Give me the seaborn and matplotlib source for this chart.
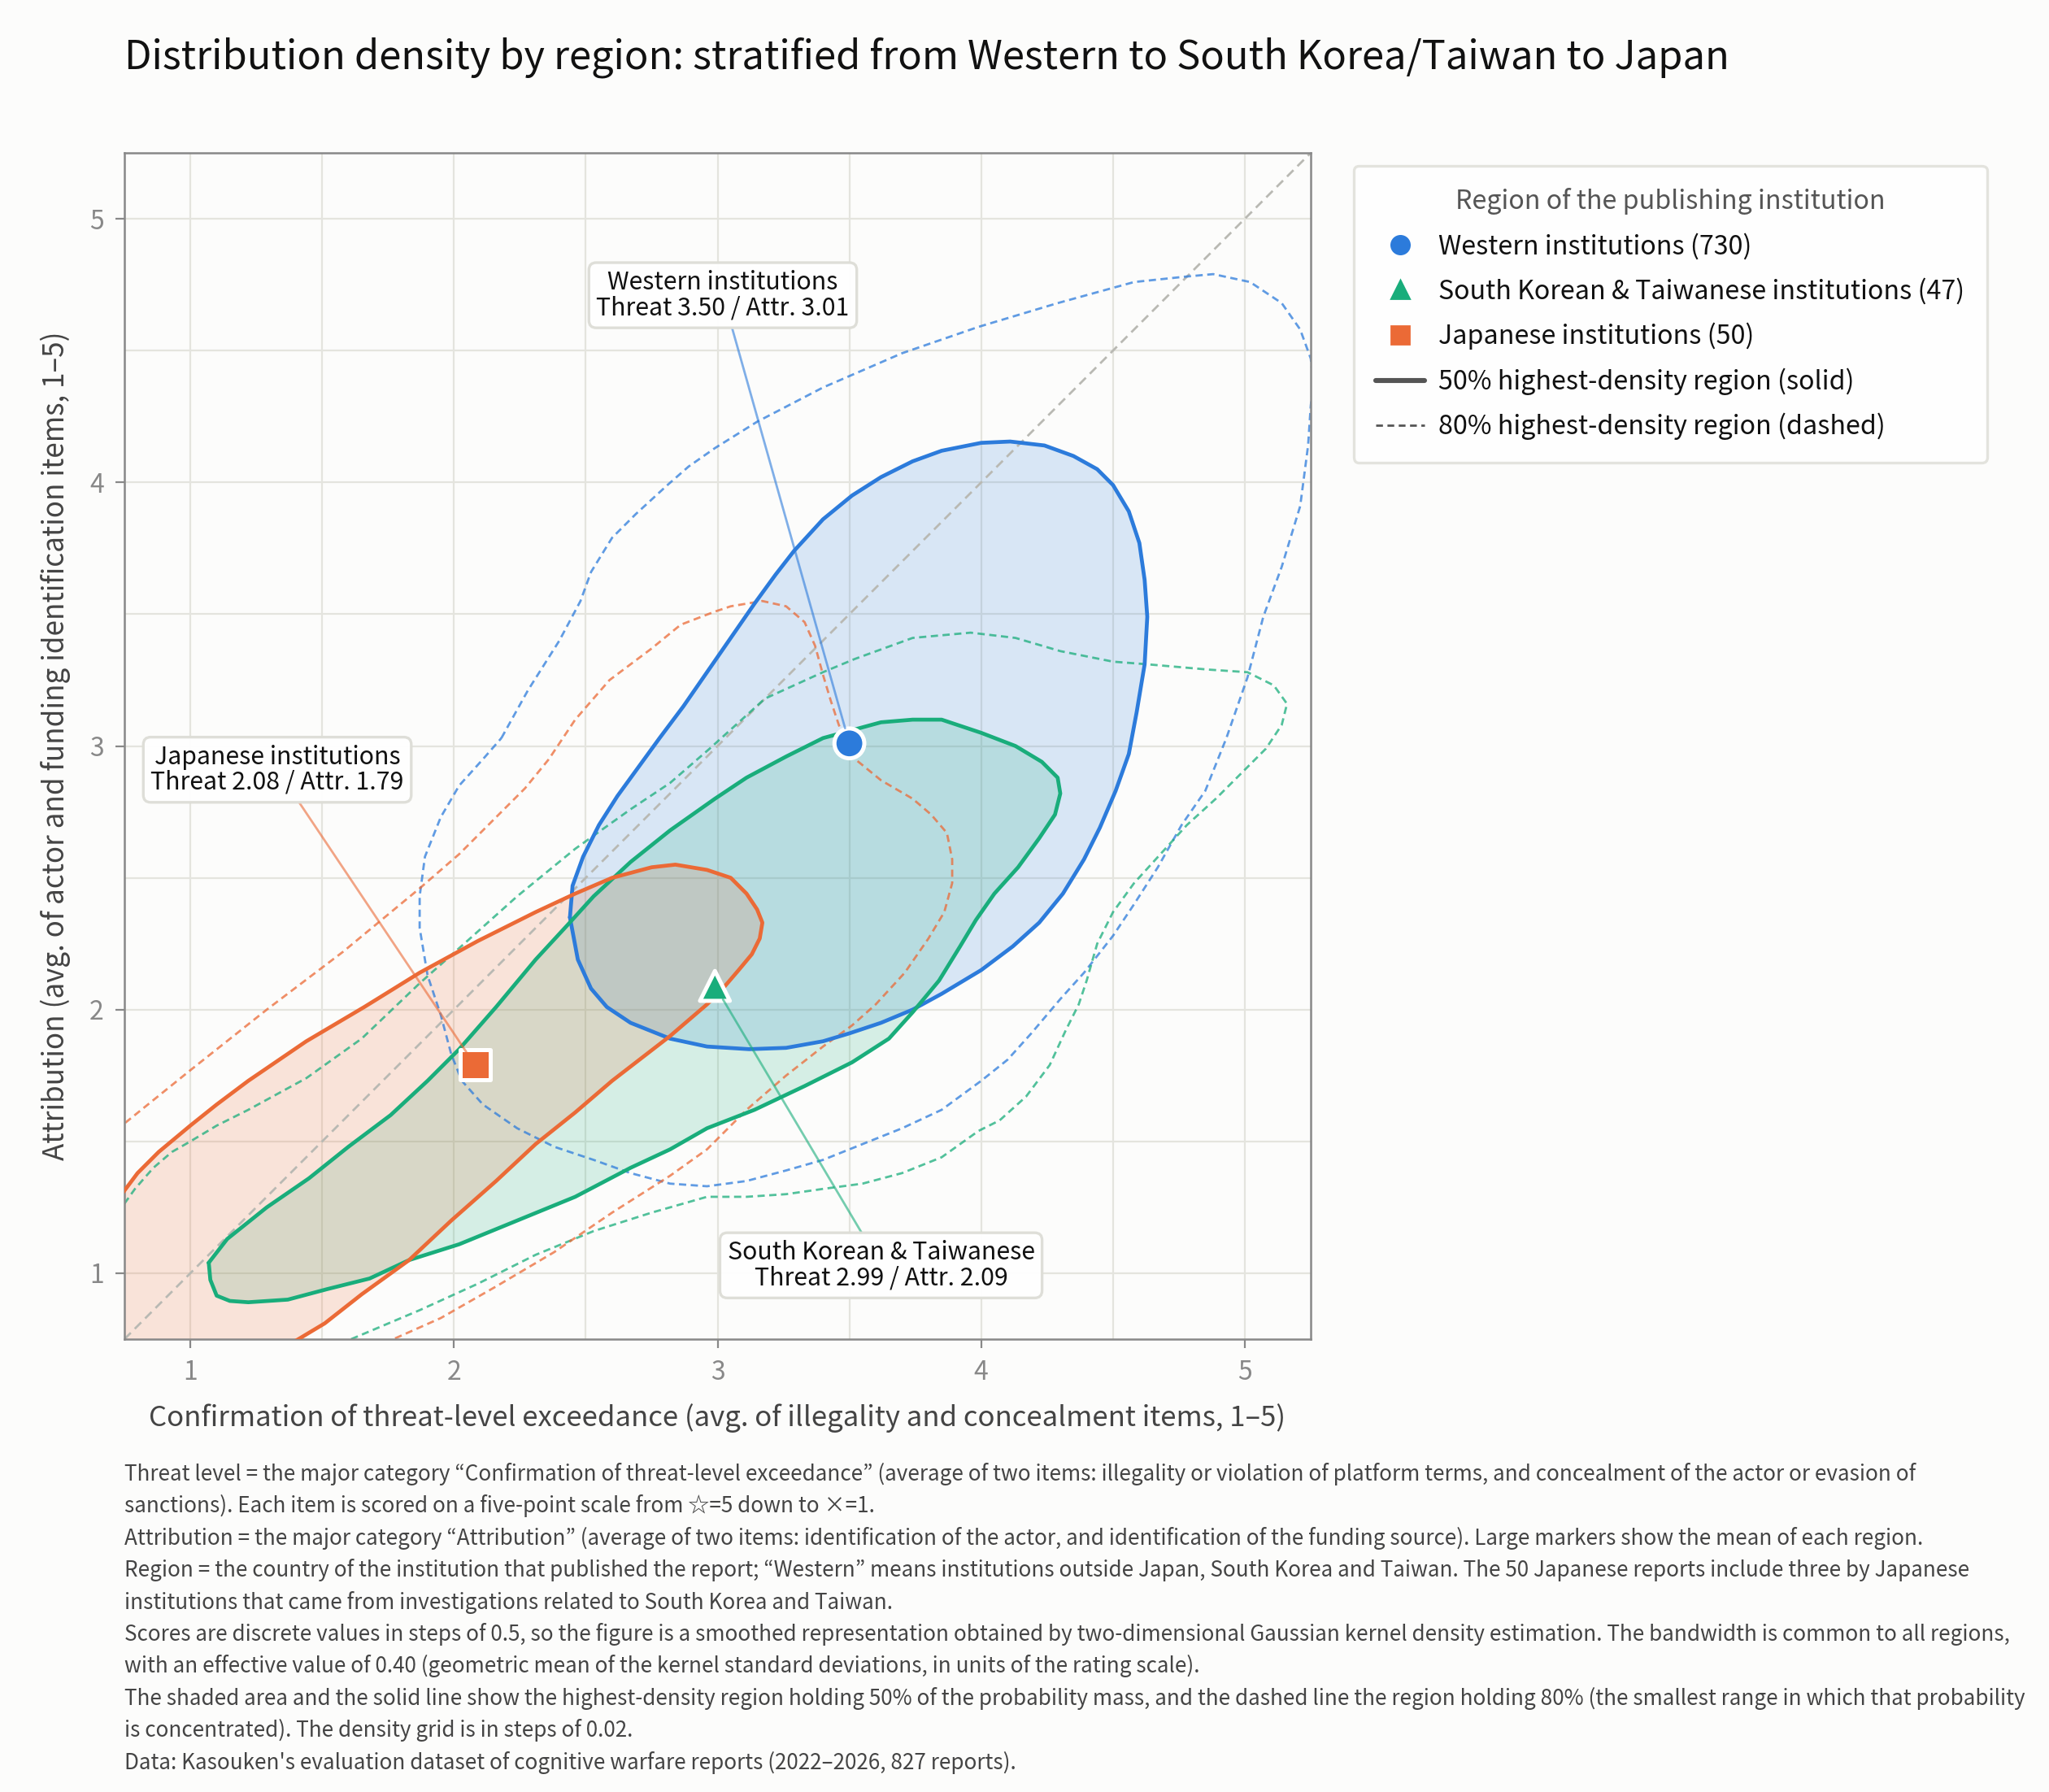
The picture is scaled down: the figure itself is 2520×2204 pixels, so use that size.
import numpy as np
import pandas as pd
import matplotlib.pyplot as plt
import seaborn as sns
from matplotlib.lines import Line2D
from matplotlib.ticker import MultipleLocator

# region summary (means)
REGIONS = ["Western institutions", "South Korean & Taiwanese institutions", "Japanese institutions"]
SHORT_NAMES = ["Western institutions", "South Korean & Taiwanese", "Japanese institutions"]
COUNTS = [730, 47, 50]
MEAN_THREAT = [3.50, 2.99, 2.08]
MEAN_ATTR = [3.01, 2.09, 1.79]

# highest-density-region outlines (threat, attribution)
WEST_HDR50 = [(2.44, 2.35), (2.45, 2.47), (2.49, 2.58), (2.55, 2.70), (2.62, 2.81), (2.70, 2.92),
              (2.78, 3.03), (2.87, 3.15), (2.96, 3.28), (3.05, 3.41), (3.14, 3.54), (3.22, 3.65),
              (3.29, 3.74), (3.40, 3.86), (3.51, 3.95), (3.62, 4.02), (3.74, 4.08), (3.85, 4.12),
              (4.00, 4.15), (4.11, 4.155), (4.24, 4.14), (4.35, 4.10), (4.44, 4.05), (4.50, 3.99),
              (4.56, 3.89), (4.60, 3.77), (4.62, 3.63), (4.63, 3.49), (4.62, 3.31), (4.59, 3.13),
              (4.56, 2.97), (4.51, 2.83), (4.45, 2.69), (4.39, 2.57), (4.31, 2.44), (4.22, 2.33),
              (4.12, 2.24), (4.00, 2.15), (3.85, 2.06), (3.74, 2.00), (3.62, 1.95), (3.50, 1.91),
              (3.40, 1.88), (3.26, 1.855), (3.12, 1.85), (2.96, 1.86), (2.82, 1.89), (2.67, 1.95),
              (2.58, 2.01), (2.52, 2.08), (2.47, 2.19)]
WEST_HDR80 = [(2.18, 3.03), (2.28, 3.21), (2.40, 3.40), (2.48, 3.55), (2.52, 3.66), (2.60, 3.79),
              (2.69, 3.88), (2.81, 3.99), (2.89, 4.06), (2.99, 4.13), (3.15, 4.23), (3.40, 4.36),
              (3.70, 4.49), (3.99, 4.59), (4.29, 4.68), (4.58, 4.76), (4.77, 4.78), (4.88, 4.79),
              (5.02, 4.76), (5.14, 4.68), (5.21, 4.58), (5.25, 4.47), (5.26, 4.38), (5.25, 4.29),
              (5.24, 4.14), (5.21, 3.91), (5.14, 3.68), (5.07, 3.49), (5.01, 3.26), (4.93, 3.03),
              (4.85, 2.83), (4.76, 2.70), (4.67, 2.54), (4.58, 2.40), (4.50, 2.28), (4.39, 2.14),
              (4.30, 2.04), (4.19, 1.91), (4.10, 1.81), (4.00, 1.73), (3.85, 1.62), (3.70, 1.55),
              (3.55, 1.49), (3.40, 1.43), (3.26, 1.39), (3.11, 1.35), (2.96, 1.33), (2.82, 1.34),
              (2.67, 1.38), (2.53, 1.43), (2.38, 1.48), (2.24, 1.55), (2.11, 1.64), (2.03, 1.73),
              (1.99, 1.83), (1.95, 1.98), (1.90, 2.13), (1.87, 2.31), (1.87, 2.43), (1.89, 2.58),
              (1.95, 2.73), (2.02, 2.85), (2.11, 2.95)]
SKTW_HDR50 = [(1.07, 1.04), (1.14, 1.13), (1.29, 1.25), (1.45, 1.36), (1.60, 1.48), (1.76, 1.60),
              (1.90, 1.73), (2.02, 1.85), (2.16, 2.01), (2.31, 2.19), (2.43, 2.32), (2.53, 2.43),
              (2.67, 2.56), (2.82, 2.68), (2.99, 2.80), (3.11, 2.88), (3.26, 2.96), (3.40, 3.03),
              (3.51, 3.06), (3.62, 3.09), (3.74, 3.10), (3.85, 3.10), (4.00, 3.05), (4.13, 3.00),
              (4.23, 2.94), (4.29, 2.88), (4.30, 2.82), (4.28, 2.74), (4.22, 2.65), (4.14, 2.54),
              (4.05, 2.44), (3.98, 2.34), (3.92, 2.24), (3.84, 2.11), (3.74, 1.99), (3.65, 1.89),
              (3.51, 1.80), (3.33, 1.71), (3.14, 1.62), (2.96, 1.55), (2.82, 1.47), (2.67, 1.40),
              (2.46, 1.29), (2.24, 1.20), (2.02, 1.11), (1.83, 1.05), (1.68, 0.98), (1.52, 0.94),
              (1.37, 0.90), (1.22, 0.89), (1.15, 0.895), (1.10, 0.915), (1.076, 0.975)]
SKTW_HDR80 = [(0.70, 1.19), (0.74, 1.25), (0.79, 1.32), (0.86, 1.40), (0.93, 1.46), (1.00, 1.50),
              (1.10, 1.56), (1.22, 1.62), (1.44, 1.74),
              (1.65, 1.89), (1.87, 2.10), (2.05, 2.26), (2.24, 2.43), (2.46, 2.61), (2.67, 2.76),
              (2.82, 2.86), (2.97, 2.99), (3.18, 3.18), (3.40, 3.28), (3.52, 3.33), (3.74, 3.41),
              (3.96, 3.43), (4.13, 3.41), (4.30, 3.36), (4.50, 3.32), (4.63, 3.31), (4.86, 3.29),
              (5.01, 3.28), (5.11, 3.23), (5.16, 3.16), (5.14, 3.08), (5.08, 2.99), (4.99, 2.90),
              (4.89, 2.80), (4.78, 2.70), (4.68, 2.59), (4.58, 2.48), (4.50, 2.37), (4.44, 2.25),
              (4.40, 2.11), (4.37, 2.02), (4.32, 1.92), (4.26, 1.79), (4.17, 1.67), (4.07, 1.58),
              (3.99, 1.54), (3.85, 1.44), (3.70, 1.38), (3.55, 1.34), (3.40, 1.32), (3.26, 1.30),
              (3.11, 1.29), (2.96, 1.29), (2.75, 1.23), (2.53, 1.16), (2.31, 1.07), (2.09, 0.96),
              (1.87, 0.86), (1.61, 0.75), (1.50, 0.70), (0.70, 0.70)]
JAPAN_HDR50 = [(0.70, 1.24), (0.74, 1.30), (0.80, 1.38), (0.88, 1.46), (1.00, 1.56), (1.10, 1.64),
               (1.22, 1.73), (1.44, 1.88),
               (1.66, 2.01), (1.87, 2.14), (2.09, 2.26), (2.31, 2.37), (2.46, 2.44), (2.60, 2.50),
               (2.75, 2.54), (2.84, 2.55), (2.96, 2.53), (3.05, 2.50), (3.11, 2.44), (3.15, 2.38),
               (3.17, 2.33), (3.16, 2.27), (3.13, 2.21), (3.08, 2.15), (3.02, 2.08), (2.96, 2.02),
               (2.82, 1.90), (2.60, 1.73), (2.46, 1.61), (2.31, 1.49), (2.16, 1.35), (1.99, 1.20),
               (1.83, 1.05), (1.65, 0.92), (1.51, 0.81), (1.36, 0.72), (1.25, 0.66), (0.70, 0.66)]
JAPAN_HDR80 = [(0.70, 1.50), (0.74, 1.56), (1.00, 1.77), (1.29, 2.00), (1.58, 2.22), (1.87, 2.46),
               (2.02, 2.59), (2.16, 2.73), (2.27, 2.84), (2.36, 2.95), (2.46, 3.10), (2.59, 3.25),
               (2.75, 3.37), (2.86, 3.46), (2.99, 3.51), (3.05, 3.53), (3.17, 3.55), (3.26, 3.53),
               (3.33, 3.47), (3.37, 3.38), (3.40, 3.27), (3.43, 3.17), (3.46, 3.08), (3.51, 2.96),
               (3.62, 2.87), (3.74, 2.80), (3.81, 2.74), (3.87, 2.67), (3.89, 2.57), (3.89, 2.48),
               (3.86, 2.37), (3.80, 2.27), (3.71, 2.14), (3.60, 2.02), (3.51, 1.94), (3.40, 1.86),
               (3.26, 1.75), (3.11, 1.62), (2.96, 1.47), (2.82, 1.37), (2.60, 1.23), (2.38, 1.08),
               (2.16, 0.95), (1.95, 0.83), (1.77, 0.75), (1.70, 0.70), (0.70, 0.70)]

FOOTNOTES = [
    "Threat level = the major category \u201cConfirmation of threat-level exceedance\u201d (average of two items: illegality or violation of platform terms, and concealment of the actor or evasion of",
    "sanctions). Each item is scored on a five-point scale from \u2606=5 down to \u00d7=1.",
    "Attribution = the major category \u201cAttribution\u201d (average of two items: identification of the actor, and identification of the funding source). Large markers show the mean of each region.",
    "Region = the country of the institution that published the report; \u201cWestern\u201d means institutions outside Japan, South Korea and Taiwan. The 50 Japanese reports include three by Japanese",
    "institutions that came from investigations related to South Korea and Taiwan.",
    "Scores are discrete values in steps of 0.5, so the figure is a smoothed representation obtained by two-dimensional Gaussian kernel density estimation. The bandwidth is common to all regions,",
    "with an effective value of 0.40 (geometric mean of the kernel standard deviations, in units of the rating scale).",
    "The shaded area and the solid line show the highest-density region holding 50% of the probability mass, and the dashed line the region holding 80% (the smallest range in which that probability",
    "is concentrated). The density grid is in steps of 0.02.",
    "Data: Kasouken's evaluation dataset of cognitive warfare reports (2022\u20132026, 827 reports).",
]

COLORS = ["#2C7BDB", "#19AD7B", "#EB6A36"]
MARKERS = ["o", "^", "s"]
palette = dict(zip(REGIONS, COLORS))

outlines = {REGIONS[0]: (WEST_HDR50, WEST_HDR80),
            REGIONS[1]: (SKTW_HDR50, SKTW_HDR80),
            REGIONS[2]: (JAPAN_HDR50, JAPAN_HDR80)}
rows = []
for reg, (h50, h80) in outlines.items():
    for level, pts in (("50%", h50), ("80%", h80)):
        closed = list(pts) + [pts[0]]
        for i, (tx, ay) in enumerate(closed):
            rows.append({"region": reg, "level": level, "order": i, "threat": tx, "attr": ay})
hdr = pd.DataFrame(rows)

means = pd.DataFrame({"region": REGIONS, "threat": MEAN_THREAT, "attr": MEAN_ATTR, "n": COUNTS})

sns.set_theme(style="whitegrid")
plt.rcParams["font.family"] = ["Noto Sans CJK JP", "DejaVu Sans"]
plt.rcParams["axes.unicode_minus"] = False

bg = "#FCFCFB"
fig = plt.figure(figsize=(12.6, 11.02), dpi=200, facecolor=bg)
ax = fig.add_axes([0.0607, 0.2527, 0.579, 0.662])
ax.set_facecolor(bg)

# shaded 50% regions first
for reg in REGIONS:
    sub = hdr[(hdr.region == reg) & (hdr.level == "50%")]
    ax.fill(sub.threat, sub.attr, color=palette[reg], alpha=0.17, lw=0, zorder=1)

ax.axline((1, 1), slope=1, color="#B9B9B3", lw=1.0, linestyle=(0, (4, 2.5)), zorder=1.5)

for reg in REGIONS:
    sub80 = hdr[(hdr.region == reg) & (hdr.level == "80%")]
    sns.lineplot(data=sub80, x="threat", y="attr", sort=False, estimator=None,
                 color=palette[reg], lw=1.0, alpha=0.75, linestyle=(0, (3.2, 2)),
                 ax=ax, legend=False, zorder=2)
for reg in REGIONS:
    sub50 = hdr[(hdr.region == reg) & (hdr.level == "50%")]
    sns.lineplot(data=sub50, x="threat", y="attr", sort=False, estimator=None,
                 color=palette[reg], lw=1.7, ax=ax, legend=False, zorder=3,
                 solid_joinstyle="round")

sns.scatterplot(data=means, x="threat", y="attr", hue="region", style="region",
                palette=palette, markers=dict(zip(REGIONS, MARKERS)), s=175,
                edgecolor="white", linewidth=1.8, ax=ax, legend=False, zorder=6)

# callouts
callout_xy = [(3.02, 4.71), (3.62, 1.03), (1.33, 2.91)]
for reg, name, tx, ay, pos in zip(REGIONS, SHORT_NAMES, MEAN_THREAT, MEAN_ATTR, callout_xy):
    ax.annotate(f"{name}\nThreat {tx:.2f} / Attr. {ay:.2f}", xy=(tx, ay), xytext=pos,
                ha="center", va="center", fontsize=10.9, color="#111111", linespacing=1.0,
                bbox=dict(boxstyle="round,pad=0.3,rounding_size=0.3", fc="white",
                          ec="#DDDDD6", lw=1.2, alpha=0.95),
                arrowprops=dict(arrowstyle="-", color=palette[reg], lw=1.0, alpha=0.6,
                                shrinkA=0, shrinkB=7),
                zorder=7)

ax.set_xlim(0.75, 5.25)
ax.set_ylim(0.75, 5.25)
ax.set_aspect("equal")
ax.xaxis.set_major_locator(MultipleLocator(1))
ax.yaxis.set_major_locator(MultipleLocator(1))
ax.xaxis.set_minor_locator(MultipleLocator(0.5))
ax.yaxis.set_minor_locator(MultipleLocator(0.5))
ax.grid(which="both", color="#E4E4DE", lw=0.8)
ax.tick_params(which="major", length=4, width=0.8, color="#888888", labelcolor="#888888",
               labelsize=11.5, bottom=True, left=True, pad=5)
ax.tick_params(which="minor", length=0)
for sp in ax.spines.values():
    sp.set_color("#888888")
    sp.set_linewidth(0.9)

ax.set_xlabel("Confirmation of threat-level exceedance (avg. of illegality and concealment items, 1\u20135)",
              fontsize=12.5, color="#444444", labelpad=8)
ax.set_ylabel("Attribution (avg. of actor and funding identification items, 1\u20135)",
              fontsize=12.6, color="#444444", labelpad=8.5)

handles = [Line2D([], [], linestyle="none", marker=m, markersize=8, markerfacecolor=c,
                  markeredgecolor=c) for m, c in zip(MARKERS, COLORS)]
handles += [Line2D([], [], color="#555555", lw=2.2),
            Line2D([], [], color="#555555", lw=1.0, linestyle=(0, (3, 2)))]
labels = [f"{r} ({n})" for r, n in zip(REGIONS, COUNTS)]
labels += ["50% highest-density region (solid)", "80% highest-density region (dashed)"]
leg = ax.legend(handles, labels, title="Region of the publishing institution",
                loc="upper left", bbox_to_anchor=(1.036, 0.989), borderaxespad=0,
                fontsize=11.6, title_fontsize=11.6, frameon=True, fancybox=True,
                borderpad=0.85, labelspacing=0.69, handlelength=1.85, handletextpad=0.55)
leg.get_title().set_color("#555555")
leg.get_frame().set_edgecolor("#DDDDD6")
leg.get_frame().set_facecolor("white")
leg.get_frame().set_linewidth(1.2)
for t in leg.get_texts():
    t.set_color("#111111")

fig.text(153 / 2520, 1 - 71 / 2204,
         "Distribution density by region: stratified from Western to South Korea/Taiwan to Japan",
         fontsize=17.6, color="#111111", ha="left", va="center")

for i, line in enumerate(FOOTNOTES):
    ypx = 1813 + i * 39.4
    fig.text(153 / 2520, 1 - ypx / 2204, line, fontsize=9.4, color="#444444",
             ha="left", va="center")

fig.savefig("out.png", dpi=200, facecolor=bg)
